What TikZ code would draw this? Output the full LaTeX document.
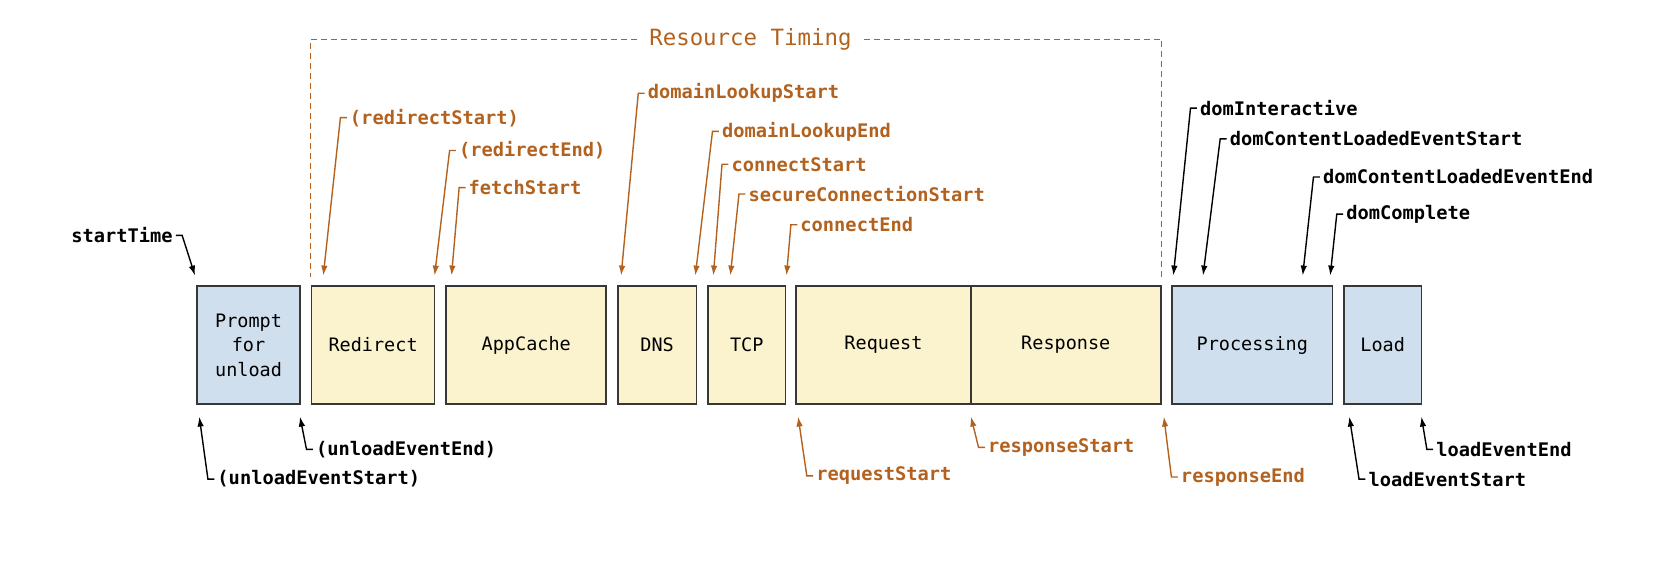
\documentclass[tikz,border=0pt]{standalone}
\usepackage{fontspec}
\setmonofont{DejaVu Sans Mono}
\usetikzlibrary{arrows.meta,positioning}
\definecolor{rtorange}{RGB}{178,98,30}
\definecolor{navblue}{RGB}{207,223,238}
\definecolor{resyellow}{RGB}{251,242,206}
\definecolor{boxedge}{RGB}{55,55,55}
\newcommand*{\stagebox}[5]{%
\node[#1, minimum width = {(#4-#3)*1.06pt}] (#2) at ({(#3+#4)/2},325.5) {#5};
}
\newcommand*{\timemark}[5]{%
\node[#1, anchor = west] (#2) at #3 {#4};
\coordinate (#2-tip) at #5;
\draw[#1 line] ([xshift = -3pt]#2.west) -- ++(-6,0) -- (#2-tip);
}

\begin{document}
\begin{tikzpicture}[x = 1.06pt, y = -1.06pt]
		\tikzset{
			basefont/.style = {font = \fontsize{18.5}{24.4}\selectfont\ttfamily},
			markfont/.style = {font = \fontsize{18.7}{22}\selectfont\ttfamily\bfseries, inner sep = 0pt},
			stage/.style = {basefont, draw = boxedge, line width = 1.7pt, inner sep = 0pt, align = center,
				minimum height = 117.7pt},
			navstage/.style = {stage, fill = navblue},
			resstage/.style = {stage, fill = resyellow},
			omark/.style = {markfont, text = rtorange},
			kmark/.style = {markfont, text = black},
			markline/.style = {line width = 1.4pt, -{Latex[length = 10pt, width = 6.5pt]}},
			omark line/.style = {markline, draw = rtorange},
			kmark line/.style = {markline, draw = black},
			bracket/.style = {draw = rtorange, line width = 1.2pt, dash pattern = on 6pt off 4pt},
			rtitle/.style = {font = \fontsize{22.4}{26}\selectfont\ttfamily, text = rtorange, inner sep = 12pt},
		};
		\useasboundingbox (0,0) rectangle (1568,545.3);

		\stagebox{navstage}{prompt}{186}{283}{Prompt\\for\\unload}
		\stagebox{resstage}{redirect}{294}{410}{Redirect}
		\stagebox{resstage}{appcache}{421}{572}{AppCache}
		\stagebox{resstage}{dns}{583}{657}{DNS}
		\stagebox{resstage}{tcp}{668}{741}{TCP}
		\stagebox{resstage}{request}{751}{916}{Request}
		\stagebox{resstage}{response}{916}{1095}{Response}
		\stagebox{navstage}{processing}{1106}{1257}{Processing}
		\stagebox{navstage}{load}{1268}{1341}{Load}

		% resource timing bracket
		\node[rtitle] (restiming) at (708,37) {Resource Timing};
		\draw[bracket] (restiming.west) -| ([yshift = 8pt]redirect.north west);
		\draw[bracket] (restiming.east) -| ([yshift = 8pt]response.north east);

		% marks above
		\node[kmark, anchor = east] (startTime) at (163,222) {startTime};
		\coordinate (startTime-tip) at (184,260);
		\draw[kmark line] ([xshift = 3pt]startTime.east) -- ++(6,0) -- (startTime-tip);

		\timemark{omark}{redirectStart}{(330,111)}{(redirectStart)}{(305,260)}
		\timemark{omark}{redirectEnd}{(433,142)}{(redirectEnd)}{(410,260)}
		\timemark{omark}{fetchStart}{(442,177)}{fetchStart}{(426,260)}
		\timemark{omark}{domainLookupStart}{(611,88)}{domainLookupStart}{(586,260)}
		\timemark{omark}{domainLookupEnd}{(681,124)}{domainLookupEnd}{(656,260)}
		\timemark{omark}{connectStart}{(690,155)}{connectStart}{(673,260)}
		\timemark{omark}{secureConnectionStart}{(706,183)}{secureConnectionStart}{(689,260)}
		\timemark{omark}{connectEnd}{(755,212)}{connectEnd}{(742,260)}
		\timemark{kmark}{domInteractive}{(1132,102)}{domInteractive}{(1107,260)}
		\timemark{kmark}{domContentStart}{(1160,131)}{domContentLoadedEventStart}{(1135,260)}
		\timemark{kmark}{domContentEnd}{(1248,167)}{domContentLoadedEventEnd}{(1229,260)}
		\timemark{kmark}{domComplete}{(1270,202)}{domComplete}{(1255,260)}

		% marks below
		\timemark{kmark}{unloadEventStart}{(205,452)}{(unloadEventStart)}{(188,393)}
		\timemark{kmark}{unloadEventEnd}{(298,424)}{(unloadEventEnd)}{(283,393)}
		\timemark{omark}{requestStart}{(770,449)}{requestStart}{(753,393)}
		\timemark{omark}{responseStart}{(932,422)}{responseStart}{(916,393)}
		\timemark{omark}{responseEnd}{(1114,450)}{responseEnd}{(1098,393)}
		\timemark{kmark}{loadEventStart}{(1291,452)}{loadEventStart}{(1273,393)}
		\timemark{kmark}{loadEventEnd}{(1355,424)}{loadEventEnd}{(1341,393)}
	\end{tikzpicture}
\end{document}
